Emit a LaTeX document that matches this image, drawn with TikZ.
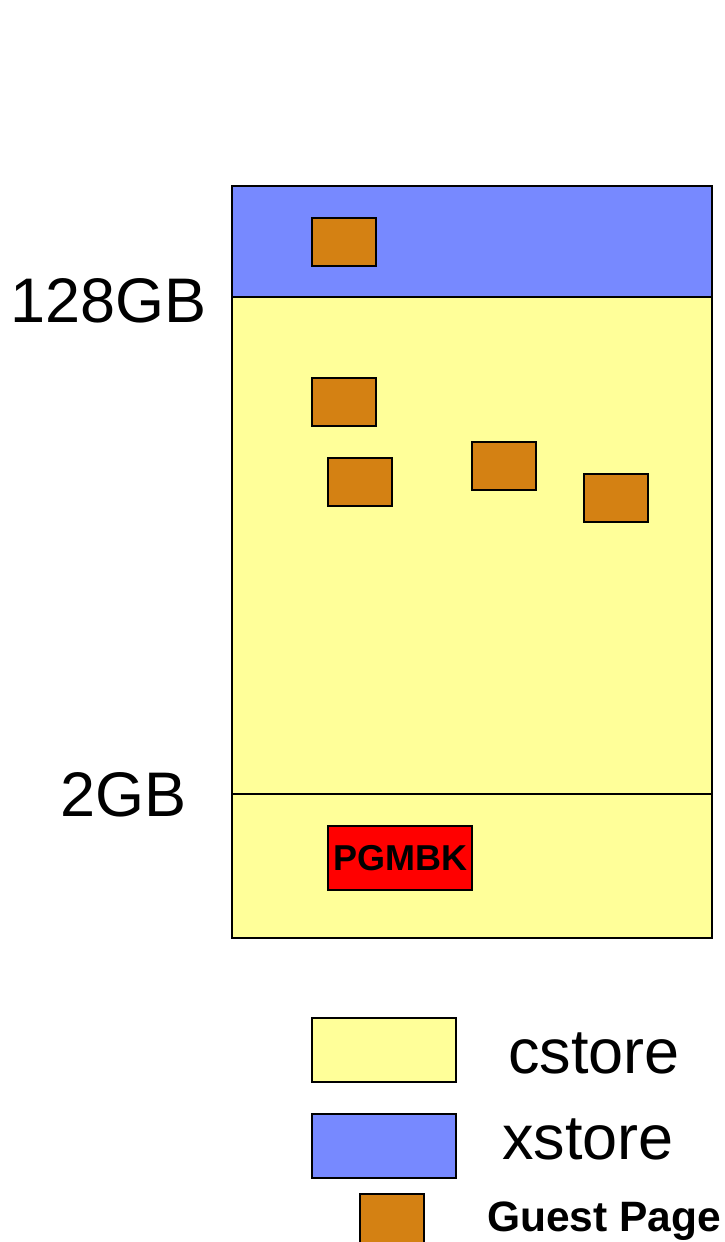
\documentclass[tikz,border=0pt]{standalone}
\usepackage{fontspec}
\setmainfont{Liberation Sans}
\definecolor{cyel}{HTML}{FFFF99}
\definecolor{xblue}{HTML}{7789FF}
\definecolor{gpage}{HTML}{D48113}
\definecolor{pgred}{HTML}{FF0000}
\begin{document}
\begin{tikzpicture}[x=1pt,y=-1pt,
  region/.style={draw=black,line width=2pt},
  page/.style={draw=black,line width=2pt,fill=gpage,minimum width=64pt,minimum height=48pt,inner sep=0pt,anchor=north west},
  lbl/.style={inner sep=0pt,anchor=base west,font=\fontsize{63}{70}\selectfont},
  legbox/.style={draw=black,line width=2pt,minimum width=144pt,minimum height=64pt,inner sep=0pt,anchor=north west}]
\useasboundingbox (0,0) rectangle (725,1242);
% memory column
\node[region,fill=cyel,minimum width=480pt,minimum height=641pt,inner sep=0pt,anchor=north west] (cst) at (231,296) {};
\node[region,fill=xblue,minimum width=480pt,minimum height=111pt,inner sep=0pt,anchor=north west] (xst) at (231,185) {};
\coordinate (l2a) at (231,794);
\coordinate (l2b) at (711,794);
\draw[line width=2pt] (l2a) -- (l2b);
% guest pages
\node[page] (g1) at (311,217) {};
\node[page] (g2) at (311,377) {};
\node[page] (g3) at (327,457) {};
\node[page] (g4) at (471,441) {};
\node[page] (g5) at (583,473) {};
% PGMBK
\node[draw=black,line width=2pt,fill=pgred,minimum width=144pt,minimum height=64pt,inner sep=0pt,anchor=north west,font=\bfseries\fontsize{36}{40}\selectfont] (pg) at (327,825) {PGMBK};
% address labels
\node[lbl] (t128) at (10,322) {128GB};
\node[lbl] (t2) at (60,816) {2GB};
% legend
\node[legbox,fill=cyel] (lc) at (311,1017) {};
\node[legbox,fill=xblue] (lx) at (311,1113) {};
\node[page,minimum height=50pt] (lg) at (359,1193) {};
\node[lbl] (tc) at (508,1073) {cstore};
\node[lbl] (tx) at (502,1159) {xstore};
\node[inner sep=0pt,anchor=base west,font=\bfseries\fontsize{42.5}{48}\selectfont] (tg) at (487,1231) {Guest Page};
\end{tikzpicture}
\end{document}
